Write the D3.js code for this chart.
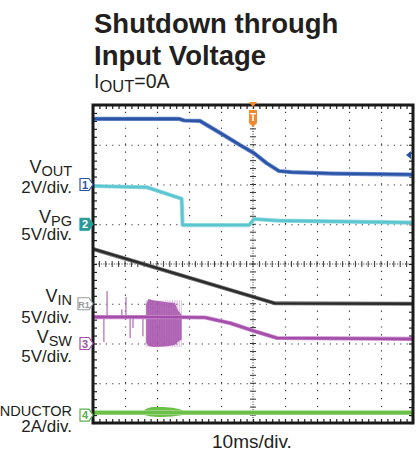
<!DOCTYPE html>
<html>
<head>
<meta charset="utf-8">
<script src="https://cdn.jsdelivr.net/npm/d3@7"></script>
<style>
  body { margin: 0; background: #fff; }
  svg { display: block; font-family: "Liberation Sans", Arial, Helvetica, sans-serif; }
</style>
</head>
<body>
<div class="canvas"></div>
<script>
// time axis: 10 divisions of 10 ms
const timeTicks = d3.range(0, 101, 10);

// VOUT, 2V/div
const voutTime = [0, 27, 28.5, 33.4, 39.7, 45.9, 50.3, 54.3, 58.1, 62, 75, 100];
const voutVolts = [3.3, 3.3, 3.22, 3.2, 2.6, 1.99, 1.58, 1.07, 0.68, 0.62, 0.55, 0.5];

// VPG, 5V/div
const vpgTime = [0, 16.8, 27.7, 28, 48.8, 50.3, 58, 100];
const vpgVolts = [4.81, 4.65, 3.21, -0.1, -0.1, 0.66, 0.45, 0.2];

// VIN, 5V/div
const vinTime = [0, 56.9, 100];
const vinVolts = [6.89, 0.05, 0];

// VSW, 5V/div
const vswTime = [0, 16.8, 27.7, 35, 43, 50.3, 57.5, 100];
const vswVolts = [3.33, 3.33, 3.3, 3.27, 2.55, 1.57, 0.69, 0.57];
// switching burst envelope
const burstTime = [16.6, 17.3, 19, 21, 23, 25.6, 26.5, 27.7];
const burstHigh = [4.9, 5.6, 5.4, 5.3, 5.2, 5.1, 4.2, 3.6];
const burstLow = [0.1, -0.3, -0.45, -0.4, -0.35, -0.2, 0.2, 0.5];
// isolated spikes
const spikeTime = [3.4, 4.4, 9.0, 10.3, 11.6, 12.5, 15.6];
const spikeVolts = [0.2, 6.6, 4.3, 5.85, 0.7, 1.95, 0.9];

// IINDUCTOR, 2A/div
const ilTime = [0, 100];
const ilAmps = [0.12, 0.12];
const ilBurstTime = [16, 18, 21, 25, 28];
const ilBurstHigh = [0.25, 0.42, 0.4, 0.38, 0.25];
const ilBurstLow = [0.0, -0.09, -0.1, -0.08, 0.0];

const svg = d3
  .select(".canvas")
  .append("svg")
  .attr("width", 420)
  .attr("height", 452);

const margin = { top: 105, left: 93 };
const graphWidth = 320;
const graphHeight = 318;

const x = d3.scaleLinear().domain([0, 100]).range([0, graphWidth]);
const y = d3.scaleLinear().domain([0, 8]).range([graphHeight, 0]); // divisions

const graph = svg
  .append("g")
  .attr("transform", `translate(${margin.left},${margin.top})`);

// grid
const xGrid = graph.append("g").attr("transform", `translate(0,${graphHeight})`);
xGrid.call(d3.axisBottom(x).tickValues([10, 20, 30, 40, 60, 70, 80, 90]).tickSize(-graphHeight).tickFormat(""));
xGrid.select(".domain").remove();
xGrid.selectAll("line").attr("stroke", "#333").attr("stroke-width", 1.2).attr("stroke-dasharray", "1.2,6.75");

const yGrid = graph.append("g");
yGrid.call(d3.axisLeft(y).tickValues([1, 2, 3, 5, 6, 7]).tickSize(-graphWidth).tickFormat(""));
yGrid.select(".domain").remove();
yGrid.selectAll("line").attr("stroke", "#333").attr("stroke-width", 1.2).attr("stroke-dasharray", "1.2,5.2");

// centre cross with ticks
graph.append("line")
  .attr("x1", x(50)).attr("x2", x(50)).attr("y1", 0).attr("y2", graphHeight)
  .attr("stroke", "#333").attr("stroke-dasharray", "1,1.6");
graph.append("line")
  .attr("x1", 0).attr("x2", graphWidth).attr("y1", y(4)).attr("y2", y(4))
  .attr("stroke", "#333").attr("stroke-dasharray", "1,1.6");
graph.selectAll(".vtick")
  .data(d3.range(0, 8.01, 0.2))
  .enter().append("line")
  .attr("x1", x(50) - 3).attr("x2", x(50) + 3)
  .attr("y1", d => y(d)).attr("y2", d => y(d))
  .attr("stroke", "#333").attr("stroke-width", 1);
graph.selectAll(".htick")
  .data(d3.range(0, 100.01, 2))
  .enter().append("line")
  .attr("x1", d => x(d)).attr("x2", d => x(d))
  .attr("y1", y(4) - 3).attr("y2", y(4) + 3)
  .attr("stroke", "#333").attr("stroke-width", 1);

// border ticks
const minorX = d3.range(0, 100.01, 2);
const minorY = d3.range(0, 8.01, 0.2);
const borders = [
  graph.append("g").call(d3.axisTop(x).tickValues(minorX).tickSize(-4).tickFormat("")),
  graph.append("g").attr("transform", `translate(0,${graphHeight})`).call(d3.axisBottom(x).tickValues(minorX).tickSize(-4).tickFormat("")),
  graph.append("g").call(d3.axisLeft(y).tickValues(minorY).tickSize(-4).tickFormat("")),
  graph.append("g").attr("transform", `translate(${graphWidth},0)`).call(d3.axisRight(y).tickValues(minorY).tickSize(-4).tickFormat(""))
];
borders.forEach(g => {
  g.select(".domain").remove();
  g.selectAll("line").attr("stroke", "#222").attr("stroke-width", 1.2);
});

// traces
const channels = [
  { name: "vin", time: vinTime, vals: vinVolts, offset: 3, perDiv: 5, color: "#2a2a2a", fuzz: "#777", width: 2.4 },
  { name: "vpg", time: vpgTime, vals: vpgVolts, offset: 5, perDiv: 5, color: "#5cc6d0", fuzz: "#9adce2", width: 2.6 },
  { name: "vout", time: voutTime, vals: voutVolts, offset: 6, perDiv: 2, color: "#2b54a6", fuzz: "#6f8fcc", width: 2.6 },
  { name: "vsw", time: vswTime, vals: vswVolts, offset: 2, perDiv: 5, color: "#a44ea9", fuzz: "#c98bcd", width: 2.6 },
  { name: "il", time: ilTime, vals: ilAmps, offset: 0.2, perDiv: 2, color: "#6cbf48", fuzz: "#a3d98a", width: 3.2 }
];
const chan = {};
channels.forEach(c => (chan[c.name] = c));

const toY = (c, v) => y(c.offset + v / c.perDiv);

// vsw spikes
graph.selectAll(".spike")
  .data(spikeTime.map((t, i) => ({ t, v: spikeVolts[i] })))
  .enter().append("line")
  .attr("x1", d => x(d.t)).attr("x2", d => x(d.t))
  .attr("y1", toY(chan.vsw, 3.33)).attr("y2", d => toY(chan.vsw, d.v))
  .attr("stroke", "#b873bc").attr("stroke-width", 1.3);

// bursts as envelopes
const burstArea = (c) => d3.area()
  .x(d => x(d.t))
  .y0(d => toY(c, d.lo))
  .y1(d => toY(c, d.hi));

graph.append("path")
  .datum(burstTime.map((t, i) => ({ t, lo: burstLow[i], hi: burstHigh[i] })))
  .attr("d", burstArea(chan.vsw))
  .attr("fill", "#a24ca7").attr("opacity", 0.9);
graph.selectAll(".burstline")
  .data(d3.range(burstTime[0], burstTime[burstTime.length - 1], 0.55))
  .enter().append("line")
  .attr("x1", d => x(d)).attr("x2", d => x(d))
  .attr("y1", d => toY(chan.vsw, d3.max(burstHigh) * 0.97))
  .attr("y2", d => toY(chan.vsw, d3.min(burstLow)))
  .attr("stroke", "#c07fc4").attr("stroke-width", 0.8).attr("opacity", 0.6);

graph.append("path")
  .datum(ilBurstTime.map((t, i) => ({ t, lo: ilBurstLow[i], hi: ilBurstHigh[i] })))
  .attr("d", d3.area().curve(d3.curveBasis).x(d => x(d.t)).y0(d => toY(chan.il, d.lo)).y1(d => toY(chan.il, d.hi)))
  .attr("fill", "#6cbf48");

channels.forEach(c => {
  const pts = c.time.map((t, i) => [x(t), toY(c, c.vals[i])]);
  const line = d3.line();
  graph.append("path").attr("d", line(pts)).attr("fill", "none")
    .attr("stroke", c.fuzz).attr("stroke-width", c.width + 1.6).attr("stroke-linejoin", "round");
  graph.append("path").attr("d", line(pts)).attr("fill", "none")
    .attr("stroke", c.color).attr("stroke-width", c.width).attr("stroke-linejoin", "round");
});

// frame
graph.append("rect")
  .attr("width", graphWidth).attr("height", graphHeight)
  .attr("fill", "none").attr("stroke", "#1a1a1a").attr("stroke-width", 3);

// trigger marker
const tx = margin.left + x(50);
svg.append("path")
  .attr("d", `M${tx - 4},${margin.top - 3} L${tx + 4},${margin.top - 3} L${tx},${margin.top + 2} Z`)
  .attr("fill", "#f08a2c");
svg.append("path")
  .attr("d", `M${tx - 4},${margin.top + 5} h8 v13 l-4,4 l-4,-4 Z`)
  .attr("fill", "#f08a2c");
svg.append("text").attr("x", tx).attr("y", margin.top + 16)
  .attr("text-anchor", "middle").attr("font-size", 10).attr("font-weight", "bold")
  .attr("fill", "#fff").text("T");

// right ch1 indicator
const ry = margin.top + 50;
svg.append("path")
  .attr("d", `M${margin.left + graphWidth - 2},${ry - 4} L${margin.left + graphWidth - 7},${ry} L${margin.left + graphWidth - 2},${ry + 4} Z`)
  .attr("fill", "#2b54a6");

// channel markers on the left
const markers = [
  { label: "1", ch: chan.vout, fill: "#fff", stroke: "#2b54a6", text: "#2b54a6" },
  { label: "2", ch: chan.vpg, fill: "#2a9a98", stroke: "#2a9a98", text: "#fff" },
  { label: "R1", ch: chan.vin, fill: "#fff", stroke: "#9a9a9a", text: "#9a9a9a" },
  { label: "3", ch: chan.vsw, fill: "#fff", stroke: "#a44ea9", text: "#a44ea9" },
  { label: "4", ch: chan.il, fill: "#fff", stroke: "#58b050", text: "#58b050" }
];
markers.forEach(m => {
  const my = margin.top + y(m.ch.offset);
  const w = m.label.length > 1 ? 11 : 9;
  const x0 = margin.left - 3 - w - 1;
  svg.append("path")
    .attr("d", `M${x0},${my - 6} h${w} l4,6 l-4,6 h-${w} Z`)
    .attr("fill", m.fill).attr("stroke", m.stroke).attr("stroke-width", 1.2);
  svg.append("text").attr("x", x0 + w / 2 + 0.5).attr("y", my + 4)
    .attr("text-anchor", "middle").attr("font-size", m.label.length > 1 ? 9 : 11)
    .attr("font-weight", "bold").attr("fill", m.text).text(m.label);
});

// left labels
const labels = [
  { main: "V", sub: "OUT", y1: 173, scale: "2V/div.", y2: 193 },
  { main: "V", sub: "PG", y1: 223, scale: "5V/div.", y2: 240 },
  { main: "V", sub: "IN", y1: 302, scale: "5V/div.", y2: 323 },
  { main: "V", sub: "SW", y1: 343, scale: "5V/div.", y2: 362 },
  { main: "I", sub: "INDUCTOR", y1: 413, scale: "2A/div.", y2: 432 }
];
labels.forEach(l => {
  const t = svg.append("text").attr("x", 72).attr("y", l.y1)
    .attr("text-anchor", "end").attr("font-size", 18).attr("fill", "#231f20");
  t.append("tspan").text(l.main);
  t.append("tspan").attr("font-size", 14.5).attr("dy", 3).text(l.sub);
  svg.append("text").attr("x", 72).attr("y", l.y2)
    .attr("text-anchor", "end").attr("font-size", 17).attr("fill", "#231f20").text(l.scale);
});

// titles
svg.append("text").attr("x", 94).attr("y", 33)
  .attr("font-size", 27.5).attr("font-weight", "bold").attr("fill", "#231f20").text("Shutdown through");
svg.append("text").attr("x", 94).attr("y", 65)
  .attr("font-size", 27.5).attr("font-weight", "bold").attr("fill", "#231f20").text("Input Voltage");
const sub = svg.append("text").attr("x", 94).attr("y", 88).attr("font-size", 19.5).attr("fill", "#231f20");
sub.append("tspan").text("I");
sub.append("tspan").attr("font-size", 16.5).attr("dy", 4).text("OUT");
sub.append("tspan").attr("dy", -4).text("=0A");

svg.append("text").attr("x", 212).attr("y", 448)
  .attr("font-size", 19).attr("fill", "#231f20").text("10ms/div.");
</script>
</body>
</html>
